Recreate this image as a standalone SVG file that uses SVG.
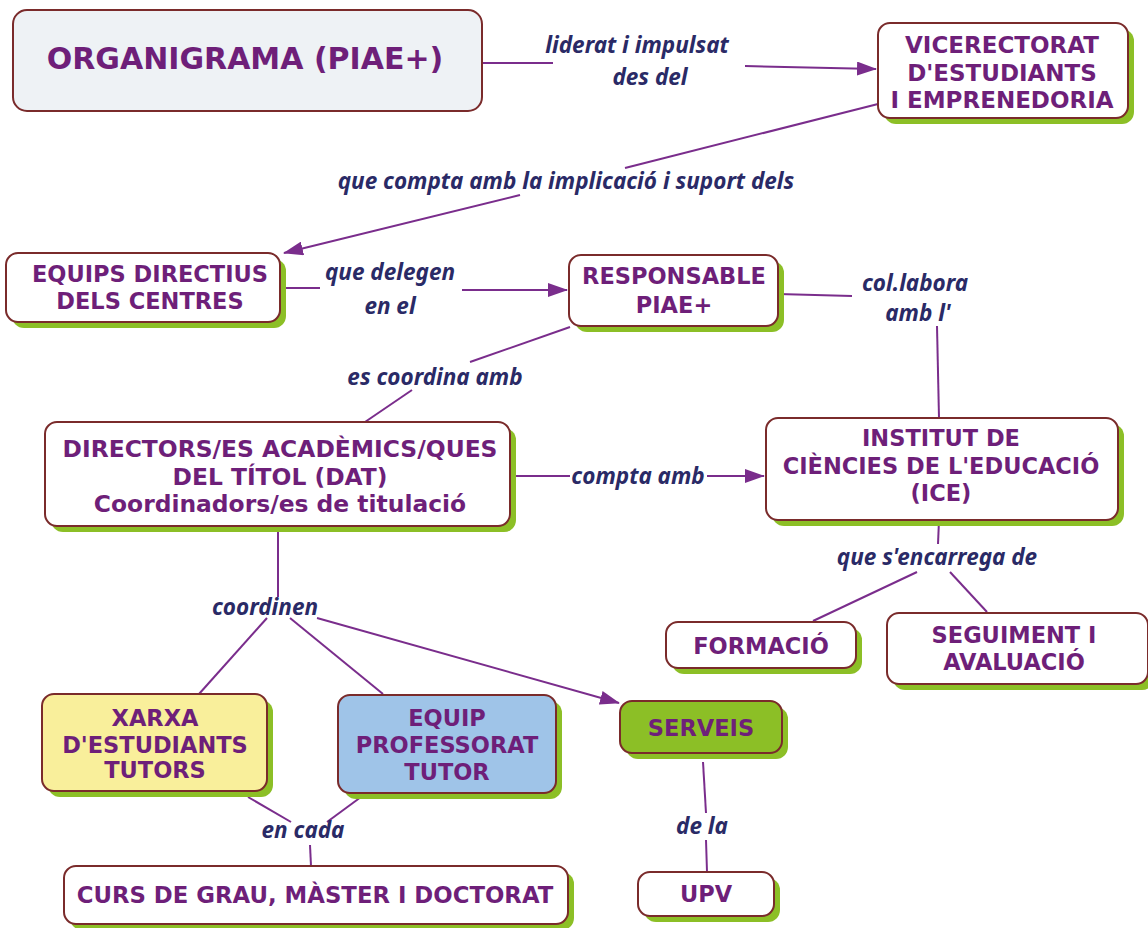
<svg xmlns="http://www.w3.org/2000/svg" width="1148" height="928" viewBox="0 0 1148 928">
<defs>
<style>
.sh{fill:#8cbf26;}
.bx{fill:#ffffff;stroke:#7a2b2b;stroke-width:2;}
.t{font-family:"DejaVu Sans",Verdana,sans-serif;font-weight:bold;fill:#6e1f79;text-anchor:middle;font-size:22.5px;}
.lb{font-family:"Noto Sans","Open Sans",sans-serif;font-weight:bold;font-style:italic;fill:#2a2a66;text-anchor:middle;font-size:22.5px;}
.ln{fill:none;stroke:#7a2d8c;stroke-width:2;}
</style>
<marker id="ah" viewBox="0 0 20 14" refX="19" refY="7" markerWidth="20" markerHeight="14" markerUnits="userSpaceOnUse" orient="auto">
<path d="M0,0 L20,7 L0,14 Z" fill="#7a2d8c"/>
</marker>
</defs>
<rect width="1148" height="928" fill="#ffffff"/>

<g id="connectors">
<path class="ln" d="M482,63 L553,63"/>
<path class="ln" d="M745,66 L876,69" marker-end="url(#ah)"/>
<path class="ln" d="M878,104 L625,168"/>
<path class="ln" d="M520,195 L284,253" marker-end="url(#ah)"/>
<path class="ln" d="M280,288 L320,288"/>
<path class="ln" d="M462,290 L567,290" marker-end="url(#ah)"/>
<path class="ln" d="M778,294 L852,296"/>
<path class="ln" d="M937,326 L939,418"/>
<path class="ln" d="M570,327 L470,362"/>
<path class="ln" d="M412,390 L365,422"/>
<path class="ln" d="M510,476 L570,476"/>
<path class="ln" d="M707,476 L764,476" marker-end="url(#ah)"/>
<path class="ln" d="M939,520 L938,544"/>
<path class="ln" d="M917,572 L813,621"/>
<path class="ln" d="M950,572 L987,612"/>
<path class="ln" d="M278,527 L278,597"/>
<path class="ln" d="M267,618 L199,694"/>
<path class="ln" d="M290,618 L383,694"/>
<path class="ln" d="M317,618 L619,703" marker-end="url(#ah)"/>
<path class="ln" d="M248,797 L291,822"/>
<path class="ln" d="M361,797 L327,822"/>
<path class="ln" d="M310,845 L311,866"/>
<path class="ln" d="M703,762 L706,813"/>
<path class="ln" d="M706,840 L707,872"/>
<text class="lb" x="637" y="53">liderat i impulsat</text>
<text class="lb" x="650" y="85">des del</text>
<text class="lb" x="566" y="189">que compta amb la implicació i suport dels</text>
<text class="lb" x="390" y="280">que delegen</text>
<text class="lb" x="390" y="314">en el</text>
<text class="lb" x="915" y="291">col.labora</text>
<text class="lb" x="918" y="321">amb l'</text>
<text class="lb" x="435" y="385">es coordina amb</text>
<text class="lb" x="638" y="484">compta amb</text>
<text class="lb" x="937" y="565">que s'encarrega de</text>
<text class="lb" x="265" y="615">coordinen</text>
<text class="lb" x="303" y="838">en cada</text>
<text class="lb" x="702" y="834">de la</text>
</g>

<g id="n-organigrama">
<rect x="13" y="10" width="469" height="101" rx="14" fill="#eef2f5" stroke="#7a2b2b" stroke-width="2"/>
<text class="t" x="245" y="69" style="font-size:30px">ORGANIGRAMA (PIAE+)</text>
</g>

<g id="n-vicerectorat">
<rect class="sh" x="884" y="29" width="250" height="95" rx="12"/>
<rect class="bx" x="878" y="23" width="250" height="95" rx="12"/>
<text class="t" x="1002" y="53" style="font-size:23px">VICERECTORAT</text>
<text class="t" x="1002" y="81" style="font-size:23px">D'ESTUDIANTS</text>
<text class="t" x="1002" y="108" style="font-size:23px">I EMPRENEDORIA</text>
</g>

<g id="n-equips">
<rect class="sh" x="12" y="259" width="274" height="69" rx="12"/>
<rect class="bx" x="6" y="253" width="274" height="69" rx="12"/>
<text class="t" x="150" y="282">EQUIPS DIRECTIUS</text>
<text class="t" x="150" y="309">DELS CENTRES</text>
</g>

<g id="n-responsable">
<rect class="sh" x="575" y="261" width="209" height="71" rx="12"/>
<rect class="bx" x="569" y="255" width="209" height="71" rx="12"/>
<text class="t" x="674" y="284">RESPONSABLE</text>
<text class="t" x="674" y="313">PIAE+</text>
</g>

<g id="n-directors">
<rect class="sh" x="51" y="428" width="465" height="104" rx="12"/>
<rect class="bx" x="45" y="422" width="465" height="104" rx="12"/>
<text class="t" x="280" y="457" style="font-size:23.4px">DIRECTORS/ES ACADÈMICS/QUES</text>
<text class="t" x="280" y="485" style="font-size:23.4px">DEL TÍTOL (DAT)</text>
<text class="t" x="280" y="512" style="font-size:23.4px">Coordinadors/es de titulació</text>
</g>

<g id="n-ice">
<rect class="sh" x="772" y="424" width="352" height="102" rx="12"/>
<rect class="bx" x="766" y="418" width="352" height="102" rx="12"/>
<text class="t" x="941" y="446">INSTITUT DE</text>
<text class="t" x="941" y="474">CIÈNCIES DE L'EDUCACIÓ</text>
<text class="t" x="941" y="501">(ICE)</text>
</g>

<g id="n-formacio">
<rect class="sh" x="672" y="628" width="190" height="46" rx="12"/>
<rect class="bx" x="666" y="622" width="190" height="46" rx="12"/>
<text class="t" x="761" y="654">FORMACIÓ</text>
</g>

<g id="n-seguiment">
<rect class="sh" x="893" y="619" width="261" height="71" rx="12"/>
<rect class="bx" x="887" y="613" width="261" height="71" rx="12"/>
<text class="t" x="1014" y="643">SEGUIMENT I</text>
<text class="t" x="1014" y="670">AVALUACIÓ</text>
</g>

<g id="n-xarxa">
<rect class="sh" x="48" y="700" width="225" height="97" rx="12"/>
<rect class="bx" x="42" y="694" width="225" height="97" rx="12" style="fill:#f9ef9b"/>
<text class="t" x="155" y="726">XARXA</text>
<text class="t" x="155" y="753">D'ESTUDIANTS</text>
<text class="t" x="155" y="778">TUTORS</text>
</g>

<g id="n-equip">
<rect class="sh" x="344" y="701" width="218" height="98" rx="12"/>
<rect class="bx" x="338" y="695" width="218" height="98" rx="12" style="fill:#9fc4e8"/>
<text class="t" x="447" y="726">EQUIP</text>
<text class="t" x="447" y="753">PROFESSORAT</text>
<text class="t" x="447" y="780">TUTOR</text>
</g>

<g id="n-serveis">
<rect class="sh" x="626" y="707" width="162" height="52" rx="12"/>
<rect class="bx" x="620" y="701" width="162" height="52" rx="12" style="fill:#8cbf26"/>
<text class="t" x="701" y="736">SERVEIS</text>
</g>

<g id="n-curs">
<rect class="sh" x="70" y="872" width="504" height="58" rx="12"/>
<rect class="bx" x="64" y="866" width="504" height="58" rx="12"/>
<text class="t" x="315" y="903" style="font-size:22.8px">CURS DE GRAU, MÀSTER I DOCTORAT</text>
</g>

<g id="n-upv">
<rect class="sh" x="644" y="878" width="136" height="44" rx="12"/>
<rect class="bx" x="638" y="872" width="136" height="44" rx="12"/>
<text class="t" x="706" y="902">UPV</text>
</g>
</svg>
